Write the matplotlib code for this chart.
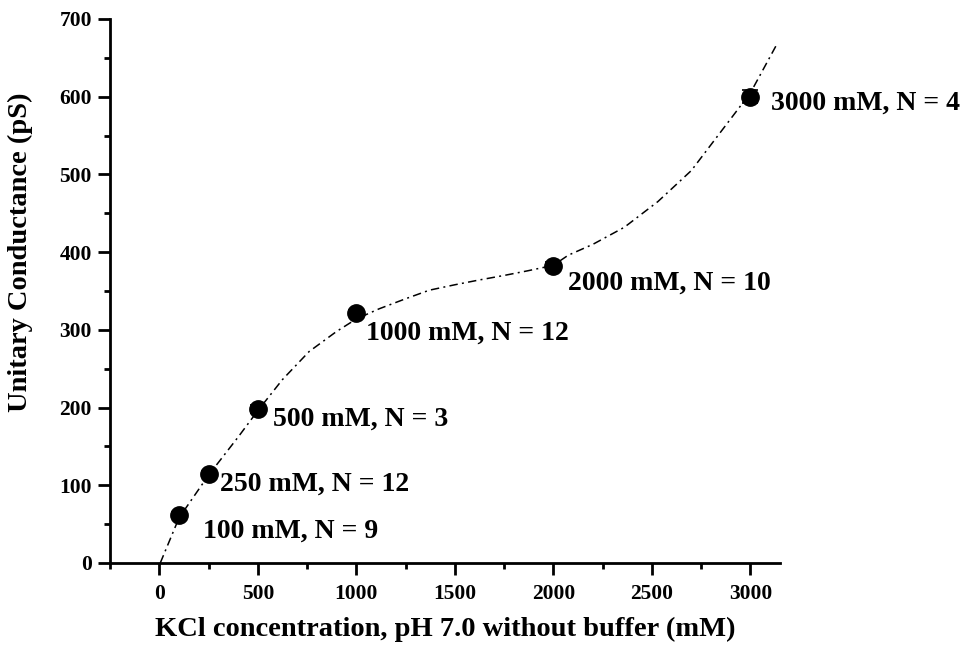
import matplotlib
matplotlib.use('Agg')
import matplotlib.pyplot as plt
from matplotlib.ticker import MultipleLocator

plt.rcParams['font.family'] = ['Liberation Serif', 'DejaVu Serif']
plt.rcParams['font.weight'] = 'bold'

# measured points
conc = [100, 250, 500, 1000, 2000, 3000]
cond = [62, 114, 198, 322, 382, 600]
err = [4, 4, 5, 4, 5, 8]
labels = ['100 mM, N = 9', '250 mM, N = 12', '500 mM, N = 3',
          '1000 mM, N = 12', '2000 mM, N = 10', '3000 mM, N = 4']
# label offsets (points) from each marker
lab_dx = [17, 8, 11, 7, 10.6, 15]
lab_dy = [-11.7, -7.2, -7.2, -14.7, -12.2, -4.4]

# fitted curve
fit_x = [5, 100, 250, 400, 500, 625, 760, 900, 1000, 1115, 1250, 1370, 1500,
         1620, 1750, 1870, 2000, 2075, 2200, 2360, 2530, 2700, 2865, 3000, 3135]
fit_y = [0, 58, 113, 162, 196, 236, 272, 298, 314, 327, 340, 351, 358,
         364, 370, 376, 383, 396, 410, 432, 465, 505, 560, 605, 668]

fig = plt.figure(figsize=(9.72, 6.55), dpi=100)
ax = fig.add_axes([0.1132, 0.1405, 0.6893, 0.8305])

ax.plot(fit_x, fit_y, color='black', lw=1.1, ls=(0, (5.5, 2.8, 1.3, 2.8)))
ax.errorbar(conc, cond, yerr=err, fmt='o', color='black', ms=12.5,
            capsize=6, elinewidth=1.2, capthick=1.2)

for x, y, t, dx, dy in zip(conc, cond, labels, lab_dx, lab_dy):
    ax.annotate(t, (x, y), xytext=(dx, dy), textcoords='offset points',
                fontsize=20, fontweight='bold', va='center', ha='left',
                annotation_clip=False)

ax.set_xlim(-250, 3150)
ax.set_ylim(0, 700)
ax.xaxis.set_major_locator(MultipleLocator(500))
ax.xaxis.set_minor_locator(MultipleLocator(250))
ax.yaxis.set_major_locator(MultipleLocator(100))
ax.yaxis.set_minor_locator(MultipleLocator(50))
ax.set_xticks([0, 500, 1000, 1500, 2000, 2500, 3000])

for s in ['top', 'right']:
    ax.spines[s].set_visible(False)
for s in ['left', 'bottom']:
    ax.spines[s].set_linewidth(2)
ax.tick_params(which='major', length=8.6, width=2, labelsize=15.5, pad=4.5)
ax.tick_params(axis='x', which='major', pad=6.5)
ax.tick_params(which='minor', length=4.3, width=2)
for lab in ax.get_xticklabels() + ax.get_yticklabels():
    lab.set_fontweight('bold')

ax.set_xlabel('KCl concentration, pH 7.0 without buffer (mM)', fontsize=20.5, fontweight='bold')
ax.set_ylabel('Unitary Conductance (pS)', fontsize=20.5, fontweight='bold')
ax.xaxis.set_label_coords(0.5, -0.099)
ax.yaxis.set_label_coords(-0.115, 0.572)

fig.savefig('out.png', dpi=100)
